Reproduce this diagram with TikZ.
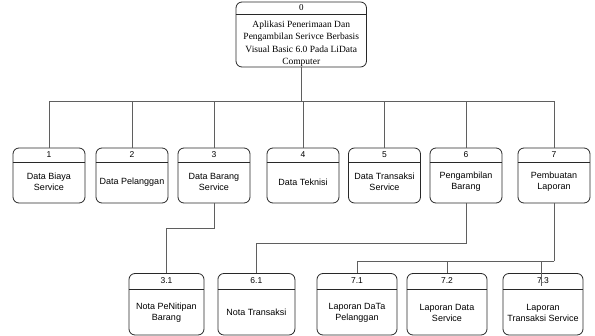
\documentclass[tikz,border=0pt]{standalone}
\usepackage{fontspec}
\setmainfont{Liberation Serif}
\setsansfont{Liberation Sans}
\usetikzlibrary{calc}
\definecolor{boxline}{RGB}{40,40,40}
\definecolor{linkline}{RGB}{95,95,95}

\begin{document}
\begin{tikzpicture}[x=1pt,y=-1pt,
    procbox/.style={draw=boxline, line width=0.8pt, rounded corners=6pt,
      inner sep=0pt, fill=white},
    divline/.style={draw=boxline, line width=0.8pt},
    link/.style={draw=linkline, line width=0.8pt},
    numtxt/.style={font=\sffamily\fontsize{8.5}{10}\selectfont, inner sep=0pt},
    bodytxt/.style={font=\sffamily\fontsize{9}{11}\selectfont, align=center, inner sep=0pt}]

  \useasboundingbox (0,0) rectangle (595,336);

  % --- Top process 0 ---
  \node[procbox, minimum width=130.5pt, minimum height=65pt] (b0) at (301.25,34.5) {};
  \draw[divline] ($(b0.north west)+(0,13)$) -- ($(b0.north east)+(0,13)$);
  \node[inner sep=0pt, font=\fontsize{9}{10}\selectfont] (n0) at ($(b0.north)+(0,6.3)$) {0};
  \node[inner sep=0pt, align=center, font=\fontsize{9.5}{12.3}\selectfont] (t0)
    at ($(b0.north)+(0,42)$)
    {Aplikasi Penerimaan Dan\\Pengambilan Serivce Berbasis\\Visual Basic 6.0 Pada LiData\\Computer};

  % --- Level 1 processes 1..7 ---
  \foreach \n/\x/\txt in {1/49/{Data Biaya\\Service}, 2/132/{Data Pelanggan},
      3/214/{Data Barang\\Service}, 4/303/{Data Teknisi},
      5/384.5/{Data Transaksi\\Service}, 6/466/{Pengambilan\\Barang},
      7/554/{Pembuatan\\Laporan}} {
    \node[procbox, minimum width=72pt, minimum height=55pt] (b\n) at (\x,175.5) {};
    \draw[divline] ($(b\n.north west)+(0,14.7)$) -- ($(b\n.north east)+(0,14.7)$);
    \node[numtxt] (n\n) at ($(b\n.north)+(0,7.3)$) {\n};
    \node[bodytxt] (t\n) at ($(b\n.north)+(0,34.5)$) {\txt};
  }

  % --- Level 2 processes ---
  \foreach \id/\num/\x/\w/\txt in {31/3.1/166.5/75/{Nota PeNitipan\\Barang},
      61/6.1/256.4/77/{Nota Transaksi},
      71/7.1/357/80/{Laporan DaTa\\Pelanggan},
      72/7.2/447/80/{Laporan Data\\Service},
      73/7.3/543/80/{Laporan\\Transaksi Service}} {
    \node[procbox, minimum width=\w pt, minimum height=61.5pt] (b\id) at (\x,304.25) {};
    \draw[divline] ($(b\id.north west)+(0,16)$) -- ($(b\id.north east)+(0,16)$);
    \node[numtxt] (n\id) at ($(b\id.north)+(0,7.8)$) {\num};
    \node[bodytxt] (t\id) at ($(b\id.north)+(0,39.5)$) {\txt};
  }

  % --- Connectors: 0 to level 1 ---
  \draw[link] (b0.south) -- ++(0,34) coordinate (j0);
  \foreach \n in {1,...,7} \draw[link] (j0) -| (b\n.north);

  % --- Connectors: level 1 to level 2 ---
  \draw[link] (b3.south) -- ++(0,25) -| (b31.north);
  \draw[link] (b6.south) -- ++(0,40) -| (b61.north);
  \draw[link] (b7.south) -- ++(0,58) coordinate (j7);
  \draw[link] (j7) -| (b71.north);
  \draw[link] (j7) -| (b72.north);
  \draw[link] (j7) -| ($(b73.north)+(-1.3,13)$);

\end{tikzpicture}
\end{document}
